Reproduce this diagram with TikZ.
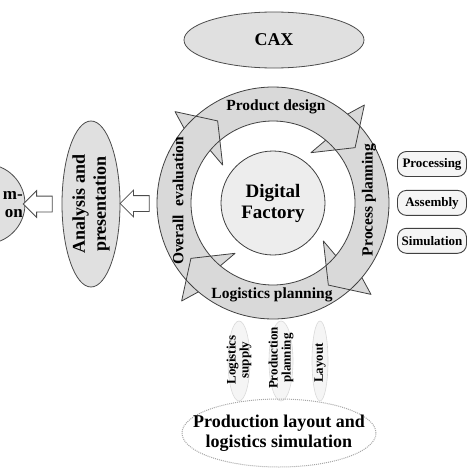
\documentclass[tikz,border=0pt]{standalone}
\usepackage{fontspec}
\setmainfont{Liberation Serif}
\usepackage{tikz}
\usetikzlibrary{positioning, shapes.geometric, shapes.arrows, calc}

\begin{document}
\begin{tikzpicture}[x=1pt,y=1pt,
        oval/.style={ellipse, draw=black!70, fill=black!12, line width=0.8pt, inner sep=0pt, align=center},
        tagbox/.style={draw=black!75, fill=black!4, line width=0.9pt, rounded corners=9pt, minimum width=69pt, minimum height=25pt, inner sep=0pt, font=\fontsize{13}{15}\selectfont\bfseries},
        lowtext/.style={rotate=90, align=center, inner sep=0pt, font=\fontsize{13}{13}\selectfont\bfseries},
        faintline/.style={draw=black!15, fill=black!4, line width=0.6pt},
        hollow/.style={single arrow, draw=black!70, fill=white, line width=0.8pt, shape border rotate=180, minimum height=29pt, minimum width=26pt, single arrow head extend=5.5pt, single arrow head indent=0pt, inner xsep=0pt, inner ysep=7.5pt},
        ringfill/.style={fill=black!15},
        ringline/.style={draw=black!75, line width=0.8pt, line join=round},
        ringtext/.style={inner sep=0pt, font=\fontsize{15.5}{17}\selectfont\bfseries}]
        \clip (0,0) rectangle (474,-474);

        % cycle of four arrows round the factory
        \coordinate (c) at (273,-203);
        \def\rin{82} \def\rout{116} \def\rmid{99} \def\rbi{63} \def\rbo{134}
        \foreach \t in {140,50,-40,-130}
            \fill[ringfill] ($(c)+(\t:\rout)$) arc[start angle=\t, end angle=\t-90, radius=\rout]
                -- ($(c)+(\t-93:\rbo)$) -- ($(c)+(\t-106:\rmid)$) -- ($(c)+(\t-87:\rbi)$)
                -- ($(c)+(\t-90:\rin)$) arc[start angle=\t-90, end angle=\t, radius=\rin]
                -- ($(c)+(\t-16:\rmid)$) -- cycle;
        \foreach \t in {140,50,-40,-130}
            \draw[ringline] ($(c)+(\t:\rin)$) arc[start angle=\t, end angle=\t-90, radius=\rin]
                -- ($(c)+(\t-87:\rbi)$) -- ($(c)+(\t-106:\rmid)$) -- ($(c)+(\t-93:\rbo)$)
                -- ($(c)+(\t-90:\rout)$) arc[start angle=\t-90, end angle=\t, radius=\rout];
        \node[circle, minimum size=232pt, inner sep=0pt] (ring) at (c) {};

        \node[ringtext] (pd) at (276,-107) {Product design};
        \node[ringtext] (lp) at (272,-295) {Logistics planning};
        \node[ringtext, rotate=90] (pp) at (369,-200) {Process planning};
        \node[ringtext, rotate=90] (oe) at (178,-201) {Overall\hspace{5pt} evaluation};

        \node[circle, draw=black!75, fill=black!7, line width=0.8pt, minimum size=104pt, inner sep=0pt, align=center,
              font=\fontsize{19}{21}\selectfont\bfseries] (df) at (c) {Digital\\Factory};

        % top and left side
        \node[oval, minimum width=180pt, minimum height=56pt, font=\fontsize{18}{20}\selectfont\bfseries] (cax) at (274,-40) {CAX};
        \node[oval, rotate=90, minimum width=166pt, minimum height=58pt, font=\fontsize{18}{21}\selectfont\bfseries] (ana) at (91,-204) {Analysis and\\presentation};
        \node[oval, circle, minimum size=80pt] (dec) at (-15,-204) {};
        \node[anchor=east, align=right, inner sep=0pt, font=\fontsize{17}{18}\selectfont\bfseries] (dectext) at (23,-205) {m-\\on};

        \node[hollow] (h1) at ($(ana.south)!0.5!(ring.west)$) {};
        \node[hollow] (h2) at ($(dec.east)!0.45!(ana.north)$) {};

        % right side
        \node[tagbox] (proc) at (432,-164) {Processing};
        \node[tagbox, below=13pt of proc] (asm) {Assembly};
        \node[tagbox, below=12pt of asm] (sim) {Simulation};

        % bottom
        \foreach \x/\w in {239/11, 281/12, 320/8}
            \draw[faintline] (\x,-361) ellipse[x radius=\w, y radius=40];
        \node[lowtext] (lsup) at (239,-360) {Logistics\\supply};
        \node[lowtext] (prod) at (281,-358) {Production\\planning};
        \node[lowtext] (lay) at (320,-363) {Layout};

        \node[ellipse, draw=black!35, densely dotted, line width=1pt, minimum width=194pt, minimum height=68pt,
              inner xsep=-20pt, inner ysep=0pt, align=center, font=\fontsize{18}{20}\selectfont\bfseries] (pls) at (279,-433)
              {Production layout and\\logistics simulation};
\end{tikzpicture}
\end{document}
